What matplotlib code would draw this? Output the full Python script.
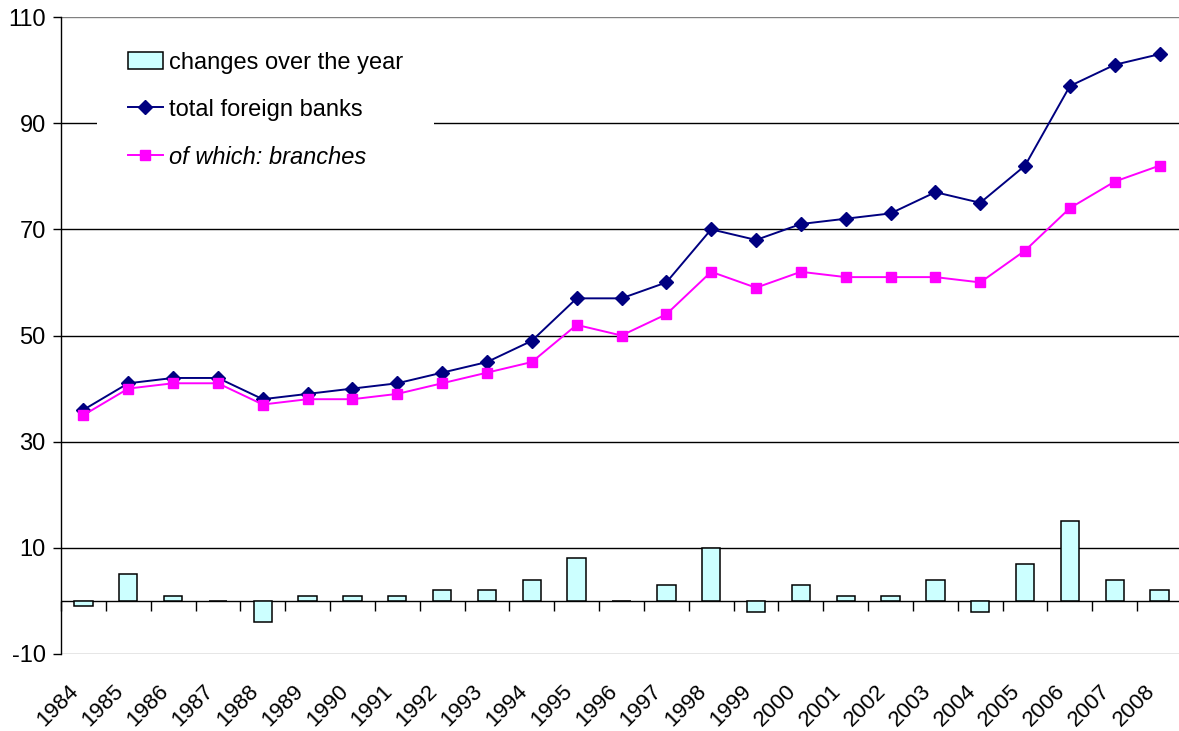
import matplotlib
matplotlib.use("Agg")
import matplotlib.pyplot as plt
import matplotlib.transforms as mtransforms
import numpy as np

plt.rcParams['font.family'] = ['Liberation Sans', 'DejaVu Sans']

years = [str(y) for y in range(1984, 2009)]
total_foreign = [36, 41, 42, 42, 38, 39, 40, 41, 43, 45, 49, 57, 57, 60, 70, 68,
                 71, 72, 73, 77, 75, 82, 97, 101, 103]
branches = [35, 40, 41, 41, 37, 38, 38, 39, 41, 43, 45, 52, 50, 54, 62, 59,
            62, 61, 61, 61, 60, 66, 74, 79, 82]
changes = [-1, 5, 1, 0, -4, 1, 1, 1, 2, 2, 4, 8, 0, 3, 10, -2,
           3, 1, 1, 4, -2, 7, 15, 4, 2]
yticks = [-10, 10, 30, 50, 70, 90, 110]

W, H = 1179, 731
fig = plt.figure(figsize=(W / 100, H / 100), dpi=100)
ax = fig.add_axes([61 / W, 77 / H, 1121 / W, 637 / H])

x = np.arange(len(years))
ax.set_xlim(-0.5, len(years) - 0.5)
ax.set_ylim(-10, 110)

# gridlines
for v in yticks:
    col = '#808080' if v in (110, -10) else '#000000'
    ax.axhline(v, color=col, lw=1.0, zorder=1)

bars = ax.bar(x, changes, width=0.41, color='#CCFFFF', edgecolor='#000000',
              linewidth=1.1, zorder=3, label='changes over the year')
l1, = ax.plot(x, total_foreign, color='#000080', lw=1.4, marker='D', ms=7,
              zorder=4, label='total foreign banks')
l2, = ax.plot(x, branches, color='#FF00FF', lw=1.4, marker='s', ms=7.5,
              zorder=4, label='of which: branches')

# zero line with category boundary ticks
ax.axhline(0, color='#000000', lw=1.0, zorder=2)
sec = ax.secondary_xaxis((0 + 10) / 120)
sec.set_xticks(np.arange(len(years) + 1) - 0.5)
sec.tick_params(axis='x', length=7, width=1, direction='out', labelbottom=False,
                color='#000000')
sec.spines['bottom'].set_visible(False)
sec.spines['top'].set_visible(False)

ax.set_yticks(yticks)
ax.set_yticklabels([str(v) for v in yticks])
ax.tick_params(axis='y', length=6, width=1, pad=5, labelsize=17)
ax.set_xticks(x)
ax.set_xticklabels(years, rotation=45, ha='right', rotation_mode='anchor',
                   fontsize=16)
ax.tick_params(axis='x', length=0, pad=19)
shift = mtransforms.ScaledTranslation(-15 / 100, 0, fig.dpi_scale_trans)
for lab in ax.get_xticklabels():
    lab.set_transform(lab.get_transform() + shift)

for s in ['top', 'right', 'bottom']:
    ax.spines[s].set_visible(False)
ax.spines['left'].set_color('#000000')
ax.spines['left'].set_linewidth(1.0)

leg = ax.legend(handles=[bars, l1, l2], loc='upper left',
                bbox_to_anchor=(97 / W, 1 - 21 / H), bbox_transform=fig.transFigure,
                frameon=True, fancybox=False, framealpha=1, edgecolor='white',
                facecolor='white', fontsize=17, handlelength=1.5,
                handletextpad=0.25, labelspacing=1.06, borderpad=1.3,
                borderaxespad=0)
leg.get_frame().set_linewidth(0)
leg.get_texts()[2].set_style('italic')
leg.set_zorder(5)

fig.savefig('out.png', dpi=100)
